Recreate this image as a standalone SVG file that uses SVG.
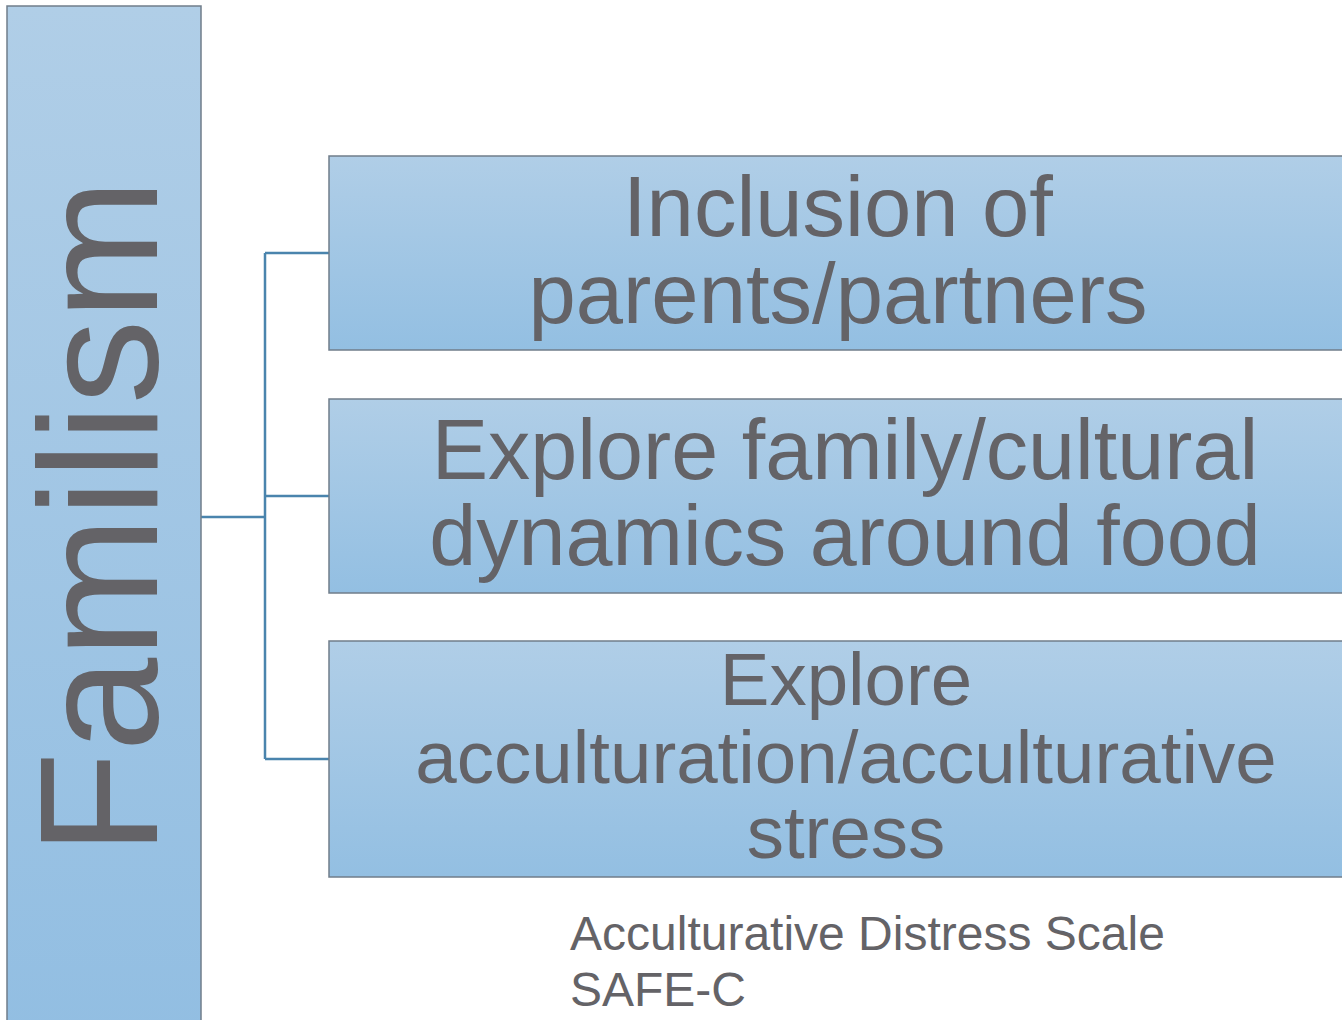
<svg xmlns="http://www.w3.org/2000/svg" width="1342" height="1020" viewBox="0 0 1342 1020">
  <defs>
    <linearGradient id="boxFill" x1="0" y1="0" x2="0" y2="1">
      <stop offset="0" stop-color="#b0cee7"/>
      <stop offset="1" stop-color="#93bfe2"/>
    </linearGradient>
    <linearGradient id="tallFill" x1="0" y1="0" x2="0" y2="1">
      <stop offset="0" stop-color="#b0cee7"/>
      <stop offset="1" stop-color="#92bee2"/>
    </linearGradient>
  </defs>
  <style>
    .box { stroke: #707d8a; stroke-width: 1.5; }
    .label { font-family: "Liberation Sans", Arial, sans-serif; fill: #646367; text-anchor: middle; }
    .link { fill: none; stroke: #4a84ad; stroke-width: 2.5; }
    .note { font-family: "Liberation Sans", Arial, sans-serif; fill: #646367; font-size: 48px; }
  </style>

  <rect width="1342" height="1020" fill="#ffffff"/>

  <!-- connectors -->
  <g id="connectors">
    <path class="link" d="M201 517 H265"/>
    <path class="link" d="M265 253 V759"/>
    <path class="link" d="M265 253 H329"/>
    <path class="link" d="M265 496 H329"/>
    <path class="link" d="M265 759 H329"/>
  </g>

  <!-- root node -->
  <g id="familism">
    <rect class="box" x="7" y="6" width="194" height="1030" fill="url(#tallFill)"/>
    <text class="label" font-size="169" transform="translate(157 517) rotate(-90)">Familism</text>
  </g>

  <!-- child nodes -->
  <g id="inclusion">
    <rect class="box" x="329" y="156" width="1030" height="194" fill="url(#boxFill)"/>
    <text class="label" font-size="85" x="838" y="236">Inclusion of</text>
    <text class="label" font-size="85" x="838" y="323">parents/partners</text>
  </g>

  <g id="family-dynamics">
    <rect class="box" x="329" y="399" width="1030" height="194" fill="url(#boxFill)"/>
    <text class="label" font-size="84.5" x="845" y="479">Explore family/cultural</text>
    <text class="label" font-size="84.5" x="845" y="565">dynamics around food</text>
  </g>

  <g id="acculturation">
    <rect class="box" x="329" y="641" width="1030" height="236" fill="url(#boxFill)"/>
    <text class="label" font-size="74.5" x="846" y="705">Explore</text>
    <text class="label" font-size="74.5" x="846" y="783">acculturation/acculturative</text>
    <text class="label" font-size="74.5" x="846" y="858">stress</text>
  </g>

  <g id="measures">
    <text class="note" x="570" y="950">Acculturative Distress Scale</text>
    <text class="note" x="570" y="1006">SAFE-C</text>
  </g>
</svg>
